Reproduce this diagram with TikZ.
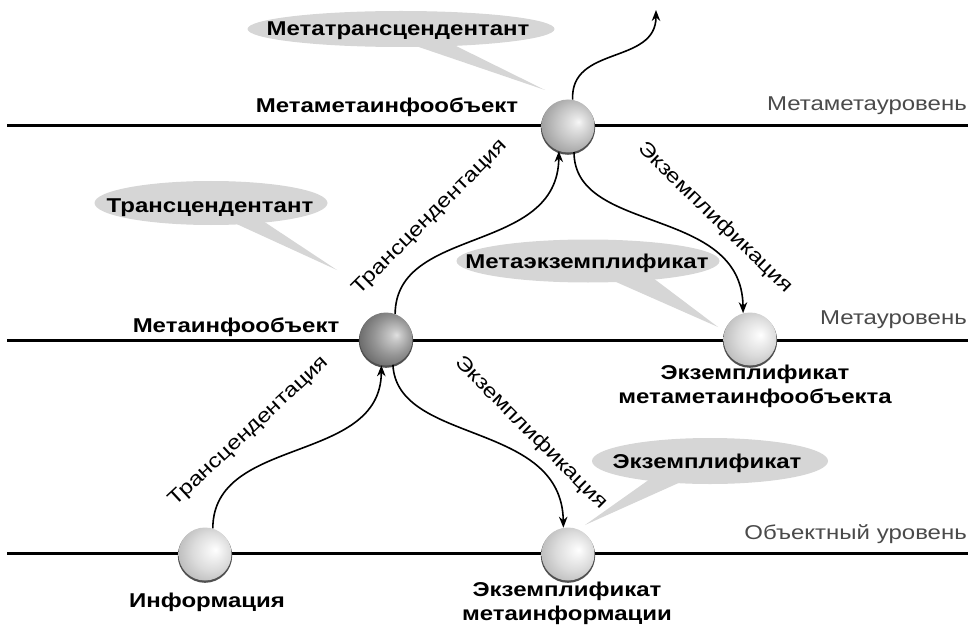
\documentclass[tikz,border=0pt]{standalone}
\usepackage{fontspec}
\setmainfont[FakeStretch=1.2]{Liberation Sans}
\usetikzlibrary{shapes.geometric,arrows.meta,calc}
\definecolor{bubblegray}{HTML}{D6D6D6}
\definecolor{levelgray}{HTML}{4A4A4A}
\definecolor{rimgray}{HTML}{505050}
\pgfdeclareradialshading{sphL}{\pgfpoint{10bp}{4bp}}{color(0bp)=(white); color(5bp)=(white!96!black); color(18bp)=(white!86!black); color(30bp)=(white!74!black); color(36bp)=(white!64!black); color(50bp)=(white!50!black)}
\pgfdeclareradialshading{sphM}{\pgfpoint{10bp}{4bp}}{color(0bp)=(white!97!black); color(5bp)=(white!90!black); color(18bp)=(white!76!black); color(30bp)=(white!62!black); color(36bp)=(white!52!black); color(50bp)=(white!40!black)}
\pgfdeclareradialshading{sphD}{\pgfpoint{10bp}{4bp}}{color(0bp)=(white!88!black); color(5bp)=(white!78!black); color(18bp)=(white!58!black); color(30bp)=(white!42!black); color(36bp)=(white!34!black); color(50bp)=(white!20!black)}
\begin{document}
\begin{tikzpicture}[x=1pt,y=-1pt,
  txt/.style={font=\fontsize{20}{23}\selectfont, inner sep=0pt, text height=14.5pt, text depth=4pt},
  lbl/.style={txt, font=\fontsize{20}{24}\selectfont\bfseries, align=center},
  lvl/.style={txt, text=levelgray, anchor=east},
  rot/.style={txt},
  bubble/.style={ellipse, fill=bubblegray, inner sep=0pt},
  btxt/.style={txt, font=\fontsize{20}{23}\selectfont\bfseries},
  ptr/.style={fill=bubblegray},
  sphere/.style={circle, minimum size=53pt, inner sep=0pt},
  rim/.style={fill=rimgray},
  arr/.style={line width=1.6pt, -{Stealth[length=11pt,width=8.5pt]}},
  levelline/.style={line width=3pt}]
\useasboundingbox (0,0) rectangle (974,639);
% level lines
\coordinate (l1a) at (7,126); \coordinate (l1b) at (968,126);
\coordinate (l2a) at (7,340); \coordinate (l2b) at (968,340);
\coordinate (l3a) at (7,553); \coordinate (l3b) at (968,553);
\draw[levelline] (l1a) -- (l1b);
\draw[levelline] (l2a) -- (l2b);
\draw[levelline] (l3a) -- (l3b);
% level names
\node[lvl] (lv1) at (967,105) {Метаметауровень};
\node[lvl] (lv2) at (967,319) {Метауровень};
\node[lvl] (lv3) at (967,534) {Объектный уровень};
% callouts
\node[bubble, minimum width=307pt, minimum height=36pt] (b1) at (401,29) {};
\node[bubble, minimum width=233pt, minimum height=44pt] (b2) at (211,203) {};
\node[bubble, minimum width=263pt, minimum height=43pt] (b3) at (588,261) {};
\node[bubble, minimum width=236pt, minimum height=46pt] (b4) at (710,461) {};
\coordinate (t1) at (545,90);
\coordinate (t2) at (337,270);
\coordinate (t3) at (718,327);
\coordinate (t4) at (585,525);
\fill[ptr] ($(b1.center)+(6,14)$) -- (t1) -- ($(b1.center)+(49,14)$) -- cycle;
\fill[ptr] ($(b2.center)+(19,18)$) -- (t2) -- ($(b2.center)+(52,18)$) -- cycle;
\fill[ptr] ($(b3.center)+(19,17)$) -- (t3) -- ($(b3.center)+(65,17)$) -- cycle;
\fill[ptr] ($(b4.center)+(-60,18)$) -- (t4) -- ($(b4.center)+(-27,20)$) -- cycle;
\node[btxt] (b1t) at (398,30) {Метатрансцендентант};
\node[btxt] (b2t) at (210,207) {Трансцендентант};
\node[btxt] (b3t) at (587,263) {Метаэкземплификат};
\node[btxt] (b4t) at (707,463) {Экземплификат};
% spheres
\coordinate (ctop) at (568,126);
\coordinate (cmeta) at (386,339);
\coordinate (cright) at (750,339);
\coordinate (cinfo) at (205,554);
\coordinate (cinst) at (568,554);
\fill[rim] ($(ctop)+(0,1.6)$) circle (27.2pt);
\fill[rim] ($(cmeta)+(0,1.6)$) circle (27.2pt);
\fill[rim] ($(cright)+(0,1.6)$) circle (27.2pt);
\fill[rim] ($(cinfo)+(0,1.6)$) circle (27.2pt);
\fill[rim] ($(cinst)+(0,1.6)$) circle (27.2pt);
\node[sphere, shading=sphM] (top) at (ctop) {};
\node[sphere, shading=sphD] (meta) at (cmeta) {};
\node[sphere, shading=sphL] (right) at (cright) {};
\node[sphere, shading=sphL] (info) at (cinfo) {};
\node[sphere, shading=sphL] (inst) at (cinst) {};
% node labels
\node[lbl] (n1) at (387,107) {Метаметаинфообъект};
\node[lbl] (n2) at (236,327) {Метаинфообъект};
\node[lbl] (n3) at (755,398) {Экземплификат\\метаметаинфообъекта};
\node[lbl] (n4) at (207,602) {Информация};
\node[lbl] (n5) at (567,615) {Экземплификат\\метаинформации};
% arrows
\coordinate (up) at (656,10);
\draw[arr] (info.73) .. controls (213,435) and (381,465) .. (meta.-100);
\draw[arr] (meta.70) .. controls (396,225) and (558,255) .. (top.-110);
\draw[arr] (top.-77) .. controls (574,235) and (742,205) .. (right.105);
\draw[arr] (meta.-75) .. controls (397,445) and (562,420) .. (inst.100);
\draw[arr] (top.80) .. controls (570,45) and (656,65) .. (up);
% arrow labels
\node[rot, rotate=43] (r1) at (249,431) {Трансцендентация};
\node[rot, rotate=45] (r2) at (430,217) {Трансцендентация};
\node[rot, rotate=-44] (r3) at (715,218) {Экземплификация};
\node[rot, rotate=-45] (r4) at (531,433) {Экземплификация};
\end{tikzpicture}
\end{document}
